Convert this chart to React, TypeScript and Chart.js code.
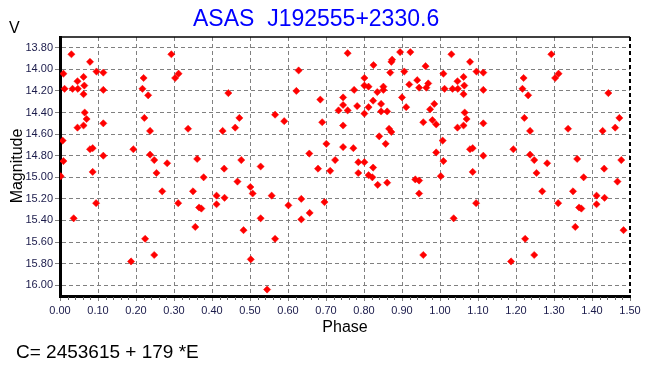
import React, { useEffect, useRef } from "react";
import { Chart, registerables } from "chart.js";

Chart.register(...registerables);

// Phase-folded observations (phase 0..1)
const phases: number[] = [
  0.030, 0.009, 0.012, 0.033, 0.047, 0.046, 0.062, 0.064, 0.062, 0.079,
  0.096, 0.114, 0.114, 0.065, 0.070, 0.046, 0.062, 0.114, 0.007, 0.079,
  0.086, 0.114, 0.009, 0.086, 0.002, 0.293, 0.312, 0.303, 0.220, 0.217,
  0.232, 0.222, 0.237, 0.337, 0.193, 0.237, 0.248, 0.282, 0.254, 0.361,
  0.378, 0.628, 0.443, 0.622, 0.685, 0.733, 0.472, 0.461, 0.428, 0.566,
  0.590, 0.690, 0.701, 0.656, 0.477, 0.528, 0.432, 0.679, 0.724, 0.711,
  0.036, 0.095, 0.187, 0.224, 0.248, 0.269, 0.311, 0.350, 0.356, 0.366,
  0.372, 0.412, 0.412, 0.433, 0.467, 0.501, 0.507, 0.483, 0.502, 0.528,
  0.545, 0.557, 0.566, 0.601, 0.635, 0.635, 0.657, 0.696, 0.757, 0.825,
  0.874, 0.872, 0.895, 0.922, 0.869, 0.906, 0.962, 0.801, 0.801, 0.812,
  0.774, 0.835, 0.851, 0.851, 0.919, 0.940, 0.945, 0.964, 0.969, 0.745,
  0.824, 0.900, 0.745, 0.782, 0.812, 0.845, 0.757, 0.801, 0.845, 0.861,
  0.911, 0.974, 0.985, 0.745, 0.866, 0.872, 0.956, 0.980, 0.990, 0.840,
  0.745, 0.772, 0.857, 0.785, 0.801, 0.824, 0.785, 0.812, 0.822, 0.935,
  0.945, 0.990, 0.836, 0.861, 0.945, 0.956,
];
const magnitudes: number[] = [
  13.86, 14.04, 14.18, 14.18, 14.18, 14.11, 14.07, 14.15, 14.23, 13.93,
  14.02, 14.03, 14.19, 14.40, 14.46, 14.54, 14.52, 14.50, 14.66, 14.74,
  14.73, 14.80, 14.85, 14.95, 14.99, 13.86, 14.04, 14.08, 14.08, 14.18,
  14.24, 14.45, 14.57, 14.55, 14.74, 14.79, 14.84, 14.87, 14.96, 14.83,
  15.00, 14.01, 14.22, 14.20, 14.28, 14.38, 14.45, 14.54, 14.57, 14.42,
  14.48, 14.49, 14.69, 14.78, 14.84, 14.90, 14.92, 14.92, 14.84, 14.94,
  15.38, 15.24, 15.78, 15.57, 15.72, 15.13, 15.24, 15.13, 15.46, 15.28,
  15.29, 15.17, 15.25, 15.19, 15.04, 15.09, 15.15, 15.49, 15.76, 15.38,
  16.04, 15.17, 15.57, 15.26, 15.20, 15.39, 15.33, 15.23, 13.85, 13.96,
  13.91, 13.93, 13.84, 13.84, 14.03, 14.02, 13.97, 14.08, 14.15, 14.16,
  14.19, 14.21, 14.19, 14.16, 14.14, 14.10, 14.17, 14.17, 14.13, 14.26,
  14.29, 14.26, 14.33, 14.34, 14.35, 14.32, 14.38, 14.41, 14.39, 14.39,
  14.35, 14.37, 14.32, 14.52, 14.55, 14.58, 14.49, 14.47, 14.51, 14.62,
  14.72, 14.73, 14.69, 14.86, 14.86, 14.91, 14.96, 14.98, 15.00, 15.02,
  15.03, 14.77, 15.07, 15.05, 15.15, 15.72,
];

const xTicks: number[] = [0, 0.1, 0.2, 0.3, 0.4, 0.5, 0.6, 0.7, 0.8, 0.9, 1.0, 1.1, 1.2, 1.3, 1.4, 1.5];
const yTicks: number[] = [13.8, 14.0, 14.2, 14.4, 14.6, 14.8, 15.0, 15.2, 15.4, 15.6, 15.8, 16.0];

const titleText = "ASAS  J192555+2330.6";
const yAxisText = "Magnitude";
const xAxisText = "Phase";
const bandText = "V";
const ephemText = "C= 2453615 + 179 *E";

const FONT = "'Liberation Sans', Arial, sans-serif";

export default function App() {
  const ref = useRef<HTMLCanvasElement | null>(null);

  useEffect(() => {
    document.body.style.margin = "0";
    const canvas = ref.current;
    if (!canvas) return;

    const pts: { x: number; y: number }[] = [];
    phases.forEach((p, i) => pts.push({ x: p, y: magnitudes[i] }));
    phases.forEach((p, i) => {
      if (p < 0.5) pts.push({ x: p + 1, y: magnitudes[i] });
    });

    const decor = {
      id: "decor",
      afterDraw(chart: any) {
        const { ctx, chartArea } = chart;
        const xs = chart.scales.x;
        ctx.save();
        // top border
        ctx.strokeStyle = "#000";
        ctx.lineWidth = 1.5;
        ctx.beginPath();
        ctx.moveTo(chartArea.left, chartArea.top);
        ctx.lineTo(chartArea.right, chartArea.top);
        ctx.stroke();
        // right border dashed
        ctx.lineWidth = 2;
        ctx.setLineDash([4, 3]);
        ctx.beginPath();
        ctx.moveTo(chartArea.right, chartArea.top);
        ctx.lineTo(chartArea.right, chartArea.bottom);
        ctx.stroke();
        ctx.setLineDash([]);
        // minor ticks on x axis
        ctx.strokeStyle = "#606060";
        ctx.lineWidth = 1;
        for (let i = 0; i <= 75; i++) {
          if (i % 5 === 0) continue;
          const px = Math.round(xs.getPixelForValue(i * 0.02)) + 0.5;
          ctx.beginPath();
          ctx.moveTo(px, chartArea.bottom + 1);
          ctx.lineTo(px, chartArea.bottom + 4);
          ctx.stroke();
        }
        // texts
        ctx.fillStyle = "#0000ff";
        ctx.font = `23px ${FONT}`;
        ctx.textAlign = "left";
        ctx.textBaseline = "alphabetic";
        ctx.fillText(titleText, 193, 26);

        ctx.fillStyle = "#000";
        ctx.font = `16px ${FONT}`;
        ctx.fillText(bandText, 9, 33);

        ctx.textAlign = "center";
        ctx.fillText(xAxisText, 345, 332);

        ctx.save();
        ctx.translate(22, 166);
        ctx.rotate(-Math.PI / 2);
        ctx.fillText(yAxisText, 0, 0);
        ctx.restore();

        ctx.textAlign = "left";
        ctx.font = `19px ${FONT}`;
        ctx.fillText(ephemText, 16, 358);
        ctx.restore();
      },
    };

    const chart = new Chart(canvas, {
      type: "scatter",
      data: {
        datasets: [
          {
            data: pts,
            pointStyle: "rectRot",
            pointRadius: 3.6,
            pointBackgroundColor: "#ff0000",
            pointBorderColor: "#ff0000",
            pointBorderWidth: 0.5,
            showLine: false,
          },
        ],
      },
      options: {
        responsive: false,
        animation: false,
        events: [],
        layout: { padding: { top: 37, right: 27, left: 0, bottom: 0 } },
        plugins: { legend: { display: false }, title: { display: false }, tooltip: { enabled: false } },
        scales: {
          x: {
            type: "linear",
            min: 0,
            max: 1.5,
            afterBuildTicks: (s: any) => {
              s.ticks = xTicks.map((v) => ({ value: v }));
            },
            afterFit: (s: any) => {
              s.height = 77;
            },
            ticks: {
              callback: (v: any) => Number(v).toFixed(2),
              font: { family: FONT, size: 11 },
              color: "#1a1a4a",
              padding: 3,
              maxRotation: 0,
              autoSkip: false,
            },
            grid: { color: "#808080", lineWidth: 1, tickLength: 5, tickColor: "#808080" },
            border: { display: true, color: "#000", width: 3, dash: [4, 3] },
          },
          y: {
            type: "linear",
            reverse: true,
            min: 13.7,
            max: 16.1,
            afterBuildTicks: (s: any) => {
              s.ticks = yTicks.map((v) => ({ value: v }));
            },
            afterFit: (s: any) => {
              s.width = 60;
            },
            ticks: {
              callback: (v: any) => Number(v).toFixed(2),
              font: { family: FONT, size: 11 },
              color: "#1a1a4a",
              padding: 2,
              autoSkip: false,
            },
            grid: { color: "#808080", lineWidth: 1, tickLength: 5, tickColor: "#808080" },
            border: { display: true, color: "#000", width: 3, dash: [4, 3] },
          },
        },
      },
      plugins: [decor],
    });

    return () => chart.destroy();
  }, []);

  return <canvas ref={ref} width={657} height={373} style={{ display: "block" }} />;
}
